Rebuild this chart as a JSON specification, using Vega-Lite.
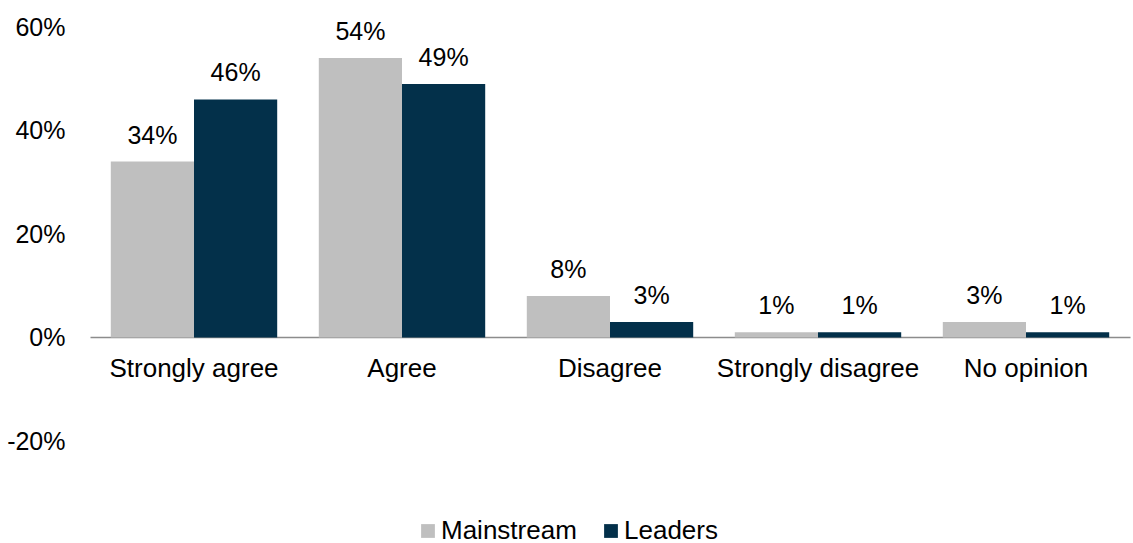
{
  "$schema": "https://vega.github.io/schema/vega-lite/v6.json",
  "autosize": {"type": "none"},
  "width": 1040,
  "height": 414,
  "padding": {"left": 90, "top": 27, "right": 3, "bottom": 102},
  "background": "white",
  "config": {
    "font": "Liberation Sans",
    "view": {"stroke": null}
  },
  "data": {
    "values": [
      {"category": "Strongly agree", "group": "Mainstream", "value": 0.34},
      {"category": "Strongly agree", "group": "Leaders", "value": 0.46},
      {"category": "Agree", "group": "Mainstream", "value": 0.54},
      {"category": "Agree", "group": "Leaders", "value": 0.49},
      {"category": "Disagree", "group": "Mainstream", "value": 0.08},
      {"category": "Disagree", "group": "Leaders", "value": 0.03},
      {"category": "Strongly disagree", "group": "Mainstream", "value": 0.01},
      {"category": "Strongly disagree", "group": "Leaders", "value": 0.01},
      {"category": "No opinion", "group": "Mainstream", "value": 0.03},
      {"category": "No opinion", "group": "Leaders", "value": 0.01}
    ]
  },
  "encoding": {
    "x": {
      "field": "category",
      "type": "nominal",
      "sort": ["Strongly agree", "Agree", "Disagree", "Strongly disagree", "No opinion"],
      "scale": {"paddingInner": 0.2, "paddingOuter": 0.1},
      "axis": {
        "title": null,
        "labelAngle": 0,
        "labelFontSize": 26,
        "labelColor": "#000000",
        "labelPadding": 18,
        "labelLimit": 0,
        "labelOverlap": false,
        "ticks": false,
        "domain": true,
        "domainColor": "#8c8c8c",
        "domainWidth": 1.5,
        "offset": -104
      }
    },
    "xOffset": {
      "field": "group",
      "type": "nominal",
      "sort": ["Mainstream", "Leaders"],
      "scale": {"paddingInner": 0, "paddingOuter": 0}
    },
    "y": {
      "field": "value",
      "type": "quantitative",
      "scale": {"domain": [-0.2, 0.6], "nice": false, "zero": false},
      "axis": {
        "title": null,
        "values": [-0.2, 0, 0.2, 0.4, 0.6],
        "labelExpr": "replace(format(datum.value, '.0%'), '\u2212', '-')",
        "labelFontSize": 25,
        "labelColor": "#000000",
        "labelPadding": 25,
        "ticks": false,
        "domain": false,
        "grid": false
      }
    }
  },
  "layer": [
    {
      "mark": {"type": "bar"},
      "encoding": {
        "y2": {"datum": 0},
        "color": {
          "field": "group",
          "type": "nominal",
          "sort": ["Mainstream", "Leaders"],
          "scale": {"domain": ["Mainstream", "Leaders"], "range": ["#bfbfbf", "#03304a"]},
          "legend": {
            "title": null,
            "orient": "none",
            "direction": "horizontal",
            "legendX": 325,
            "legendY": 491,
            "symbolType": "square",
            "symbolSize": 190,
            "symbolStrokeWidth": 0,
            "labelFontSize": 26,
            "labelColor": "#000000",
            "labelOffset": 0,
            "labelLimit": 0,
            "columnPadding": 21
          }
        }
      }
    },
    {
      "mark": {"type": "text", "baseline": "alphabetic", "dy": -18, "fontSize": 25, "color": "#000000"},
      "encoding": {
        "text": {"field": "value", "type": "quantitative", "format": ".0%"}
      }
    }
  ]
}
